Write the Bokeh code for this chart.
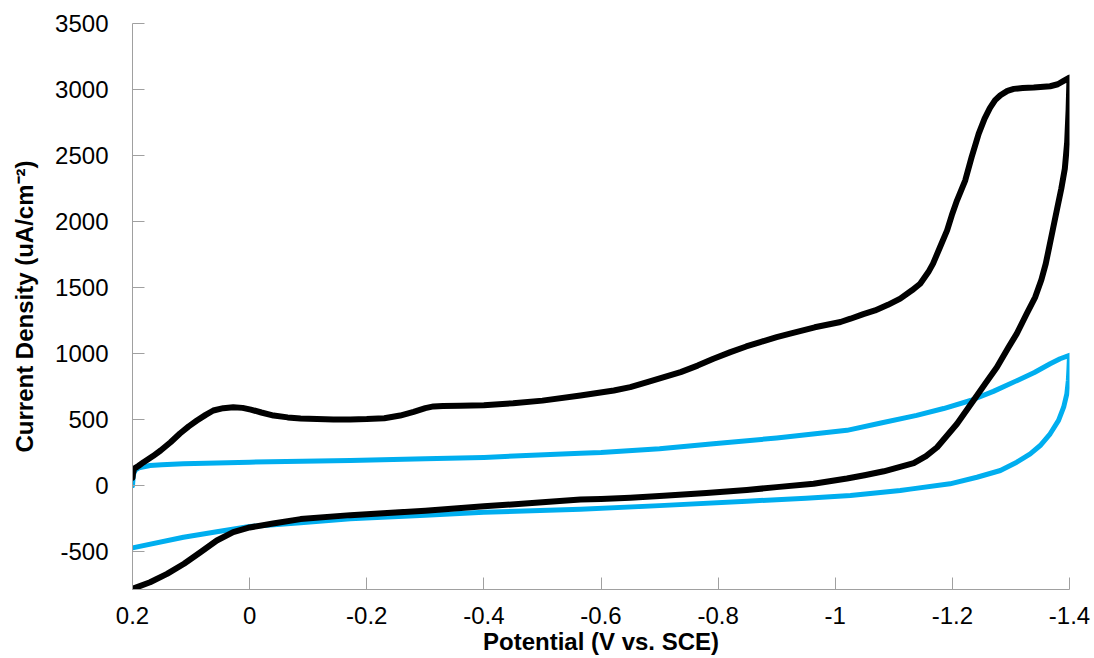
from bokeh.plotting import figure
from bokeh.models import Range1d, FixedTicker
from bokeh.embed import file_html
from bokeh.resources import INLINE

# ---- data ----
black_fwd_v = [0.2, 0.199, 0.197, 0.19, 0.181, 0.165, 0.152, 0.135, 0.119, 0.104, 0.09, 0.075,
               0.062, 0.045, 0.028, 0.012, -0.002, -0.02, -0.041, -0.065, -0.087, -0.115, -0.143,
               -0.172, -0.2, -0.23, -0.257, -0.28, -0.3, -0.314, -0.33, -0.36, -0.4, -0.45, -0.5,
               -0.565, -0.622, -0.65, -0.679, -0.736, -0.765, -0.792, -0.821, -0.848, -0.872,
               -0.9, -0.923, -0.965, -1.009, -1.026, -1.048, -1.068, -1.09, -1.111, -1.131,
               -1.145, -1.159, -1.167, -1.179, -1.191, -1.199, -1.208, -1.222, -1.233, -1.245,
               -1.255, -1.264, -1.273, -1.282, -1.294, -1.305, -1.32, -1.339, -1.367, -1.38,
               -1.39, -1.4]
black_fwd_i = [60, 100, 130, 150, 179, 225, 267, 330, 396, 450, 494, 537,
               570, 588, 595, 590, 577, 555, 532, 518, 510, 505, 502,
               502, 505, 512, 532, 560, 588, 601, 605, 607, 610, 625, 645,
               684, 722, 747, 785, 861, 910, 962, 1012, 1055, 1088,
               1125, 1152, 1200, 1240, 1265, 1300, 1328, 1370, 1417, 1480,
               1530, 1618, 1682, 1808, 1934, 2048, 2161, 2313, 2490, 2667,
               2780, 2860, 2920, 2957, 2990, 3005, 3012, 3015, 3025, 3040,
               3065, 3091]
black_rev_v = [-1.4, -1.3985, -1.396, -1.392, -1.386, -1.379, -1.372, -1.365, -1.3595, -1.352,
               -1.3415, -1.327, -1.31, -1.296, -1.276, -1.256, -1.236, -1.208, -1.174, -1.155,
               -1.134, -1.1, -1.083, -1.05, -1.02, -0.963, -0.9, -0.849, -0.78, -0.707, -0.65,
               -0.6, -0.565, -0.5, -0.4, -0.3, -0.2, -0.172, -0.087, -0.04, 0.0, 0.028, 0.056,
               0.084, 0.112, 0.141, 0.17, 0.2]
black_rev_i = [3091, 2850, 2600, 2400, 2250, 2100, 1950, 1800, 1682, 1560,
               1429, 1303, 1152, 1050, 898, 773, 646, 470, 292, 225,
               172, 130, 110, 80, 55, 15, -10, -32, -55, -76, -90,
               -100, -104, -125, -155, -188, -216, -222, -252, -285, -315, -351, -414,
               -503, -590, -667, -730, -780]

blue_fwd_v = [0.2, 0.199, 0.198, 0.195, 0.189, 0.17, 0.15, 0.113, 0.0, -0.172, -0.3, -0.4,
              -0.565, -0.6, -0.7, -0.792, -0.9, -1.02, -1.078, -1.139, -1.185, -1.231, -1.27,
              -1.311, -1.34, -1.367, -1.384, -1.4]
blue_fwd_i = [0, 60, 91, 120, 136, 154, 160, 167, 179, 192, 205, 215,
              247, 252, 280, 318, 362, 420, 475, 533, 585, 646, 715,
              798, 858, 924, 962, 988]
blue_rev_v = [-1.4, -1.399, -1.398, -1.3955, -1.39, -1.3813, -1.367, -1.35, -1.333, -1.31,
              -1.282, -1.242, -1.196, -1.128, -1.111, -1.026, -0.95, -0.849, -0.7, -0.565,
              -0.4, -0.3, -0.172, -0.087, 0.0, 0.056, 0.113, 0.2]
blue_rev_i = [988, 880, 798, 697, 595, 495, 394, 305, 242, 179,
              116, 65, 15, -25, -36, -73, -95, -116, -150, -178,
              -200, -222, -250, -280, -308, -348, -389, -470]

x_ticks = [0.2, 0.0, -0.2, -0.4, -0.6, -0.8, -1.0, -1.2, -1.4]
x_tick_labels = ["0.2", "0", "-0.2", "-0.4", "-0.6", "-0.8", "-1", "-1.2", "-1.4"]
y_ticks = [-500, 0, 500, 1000, 1500, 2000, 2500, 3000, 3500]
y_tick_labels = ["-500", "0", "500", "1000", "1500", "2000", "2500", "3000", "3500"]

FONT = "Liberation Sans"
AXIS_GRAY = "#a0a0a0"

p = figure(width=1094, height=658, output_backend="svg", toolbar_location=None,
           x_range=Range1d(0.2, -1.4), y_range=Range1d(-785, 3500),
           min_border_left=132, min_border_right=25, min_border_top=23, min_border_bottom=69)
p.outline_line_color = None
p.xgrid.visible = False
p.ygrid.visible = False
p.background_fill_color = "white"
p.border_fill_color = "white"

p.line(blue_fwd_v + blue_rev_v, blue_fwd_i + blue_rev_i, line_color="#00AEEF",
       line_width=5, line_join="round", line_cap="round")
p.line(black_fwd_v + black_rev_v, black_fwd_i + black_rev_i, line_color="black",
       line_width=6, line_join="round", line_cap="round")

p.xaxis.ticker = FixedTicker(ticks=x_ticks)
p.xaxis.major_label_overrides = {t: l for t, l in zip(x_ticks, x_tick_labels)}
p.yaxis.ticker = FixedTicker(ticks=y_ticks)
p.yaxis.major_label_overrides = {t: l for t, l in zip(y_ticks, y_tick_labels)}

for ax in (p.xaxis[0], p.yaxis[0]):
    ax.axis_line_color = AXIS_GRAY
    ax.major_tick_line_color = AXIS_GRAY
    ax.major_tick_in = 12
    ax.major_tick_out = 0
    ax.minor_tick_line_color = None
    ax.major_label_text_font = FONT
    ax.major_label_text_font_size = "24px"
    ax.major_label_text_color = "black"
    ax.axis_label_text_font = FONT
    ax.axis_label_text_font_size = "24px"
    ax.axis_label_text_font_style = "bold"
    ax.axis_label_text_color = "black"

p.xaxis.axis_label = "Potential (V vs. SCE)"
p.xaxis.major_label_standoff = 17
p.xaxis.axis_label_standoff = 1
p.yaxis.axis_label = "Current Density (uA/cm\u207b\u00b2)"
p.yaxis.major_label_standoff = 24
p.yaxis.axis_label_standoff = 14

open("out.html", "w").write(file_html(p, INLINE))
